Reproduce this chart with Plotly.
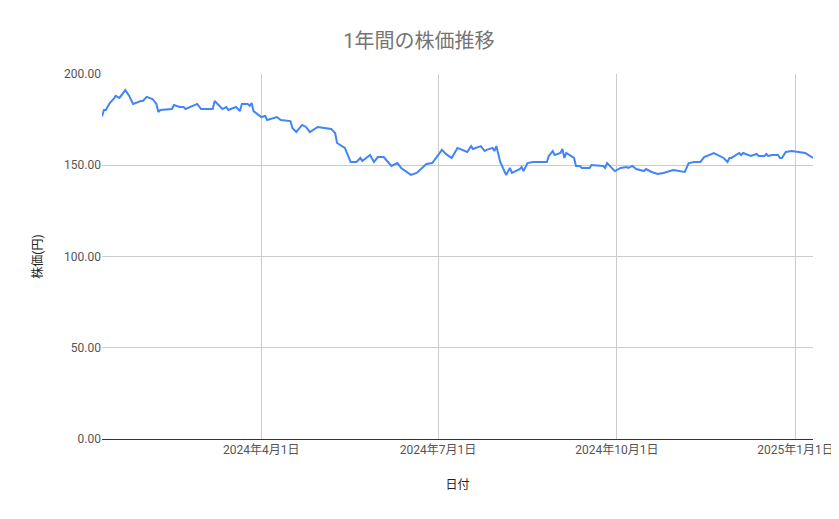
import plotly.graph_objects as go

# 日付と終値
dates = [
    "2024-01-10", "2024-01-11", "2024-01-12", "2024-01-14", "2024-01-16", "2024-01-17",
    "2024-01-19", "2024-01-22", "2024-01-24", "2024-01-26", "2024-01-30", "2024-01-31",
    "2024-02-02", "2024-02-05", "2024-02-07", "2024-02-08", "2024-02-09", "2024-02-15",
    "2024-02-16", "2024-02-19", "2024-02-21", "2024-02-22", "2024-02-28", "2024-03-01",
    "2024-03-07", "2024-03-08", "2024-03-12", "2024-03-14", "2024-03-15", "2024-03-19",
    "2024-03-21", "2024-03-22", "2024-03-25", "2024-03-26", "2024-03-27", "2024-03-28",
    "2024-04-01", "2024-04-03", "2024-04-04", "2024-04-08", "2024-04-09", "2024-04-11",
    "2024-04-16", "2024-04-17", "2024-04-19", "2024-04-22", "2024-04-24", "2024-04-26",
    "2024-04-30", "2024-05-07", "2024-05-09", "2024-05-10", "2024-05-14", "2024-05-17",
    "2024-05-20", "2024-05-22", "2024-05-23", "2024-05-27", "2024-05-29", "2024-05-31",
    "2024-06-03", "2024-06-07", "2024-06-10", "2024-06-12", "2024-06-17", "2024-06-20",
    "2024-06-25", "2024-06-28", "2024-07-01", "2024-07-03", "2024-07-05", "2024-07-08",
    "2024-07-11", "2024-07-16", "2024-07-18", "2024-07-19", "2024-07-23", "2024-07-25",
    "2024-07-26", "2024-07-29", "2024-07-30", "2024-07-31", "2024-08-02", "2024-08-05",
    "2024-08-07", "2024-08-08", "2024-08-12", "2024-08-13", "2024-08-14", "2024-08-16",
    "2024-08-19", "2024-08-21", "2024-08-26", "2024-08-27", "2024-08-29", "2024-08-30",
    "2024-09-02", "2024-09-03", "2024-09-04", "2024-09-05", "2024-09-09", "2024-09-10",
    "2024-09-12", "2024-09-13", "2024-09-17", "2024-09-18", "2024-09-24", "2024-09-25",
    "2024-09-26", "2024-09-29", "2024-09-30", "2024-10-03", "2024-10-06", "2024-10-07",
    "2024-10-09", "2024-10-11", "2024-10-15", "2024-10-16", "2024-10-19", "2024-10-22",
    "2024-10-25", "2024-10-30", "2024-11-05", "2024-11-07", "2024-11-10", "2024-11-13",
    "2024-11-15", "2024-11-20", "2024-11-25", "2024-11-27", "2024-11-28", "2024-11-29",
    "2024-12-03", "2024-12-04", "2024-12-05", "2024-12-09", "2024-12-12", "2024-12-13",
    "2024-12-16", "2024-12-17", "2024-12-18", "2024-12-20", "2024-12-23", "2024-12-24",
    "2024-12-25", "2024-12-27", "2024-12-30", "2025-01-06", "2025-01-10",
]
prices = [
    176.8, 180.3, 180.3, 184.1, 186.3, 188.0,
    186.9, 191.2, 188.0, 183.6, 185.2, 185.2,
    187.5, 186.3, 183.6, 179.2, 180.3, 180.8,
    183.0, 181.9, 181.9, 180.8, 183.6, 180.8,
    180.8, 185.2, 180.8, 181.9, 180.3, 181.9,
    179.7, 183.6, 183.6, 182.5, 184.1, 179.7,
    176.4, 177.0, 174.8, 175.9, 176.4, 174.8,
    174.2, 170.4, 168.2, 172.1, 171.0, 168.2,
    171.0, 169.9, 167.7, 162.2, 159.5, 151.8,
    151.8, 154.0, 152.3, 155.6, 151.8, 154.5,
    154.5, 149.6, 151.2, 148.5, 144.7, 145.8,
    150.7, 151.2, 155.6, 158.4, 156.2, 154.0,
    159.5, 157.3, 160.5, 158.9, 160.5, 157.8,
    158.4, 159.5, 157.8, 160.5, 151.8, 144.7,
    148.5, 145.8, 147.9, 149.0, 146.8, 151.2,
    151.8, 151.8, 151.8, 155.1, 157.8, 155.6,
    156.7, 158.9, 154.0, 156.7, 154.0, 149.6,
    149.6, 148.5, 148.5, 150.1, 149.6, 148.5,
    151.2, 147.9, 146.8, 148.5, 149.0, 148.5,
    149.6, 147.9, 146.8, 147.9, 146.3, 145.2,
    145.8, 147.4, 146.3, 151.2, 151.8, 151.8,
    154.5, 156.7, 154.0, 151.8, 154.0, 154.0,
    156.7, 155.6, 156.7, 155.1, 156.2, 155.1,
    155.1, 156.2, 155.1, 155.6, 155.6, 154.0,
    154.0, 157.3, 157.8, 156.7, 154.0,
]

tick_dates = ["2024-04-01", "2024-07-01", "2024-10-01", "2025-01-01"]
tick_labels = ["2024年4月1日", "2024年7月1日", "2024年10月1日", "2025年1月1日"]

font = "Roboto, 'Noto Sans CJK JP', sans-serif"

fig = go.Figure()
fig.add_trace(go.Scatter(
    x=dates, y=prices, mode="lines",
    line=dict(color="#4285F4", width=2),
    showlegend=False,
))

# ページ本体の余白(8px)を見込んだサイズ
fig.update_layout(
    width=831, height=503,
    margin=dict(l=94, r=26, t=66, b=72),
    paper_bgcolor="white", plot_bgcolor="white",
    font=dict(family=font, size=12, color="#444444"),
    title=dict(text="1年間の株価推移", x=0.4945, xanchor="center", y=0.935, yanchor="middle",
               font=dict(family=font, size=20, color="#757575")),
)
fig.update_xaxes(
    range=[dates[0], dates[-1]],
    tickvals=tick_dates, ticktext=tick_labels,
    ticklabeloverflow="allow", automargin=False,
    showgrid=True, gridcolor="#cccccc", gridwidth=1,
    showline=True, linecolor="#333333", linewidth=1,
    ticks="", tickfont=dict(size=12, color="#555555"),
    title=dict(text="日付", font=dict(size=12, color="#222222"), standoff=24),
)
fig.update_yaxes(
    range=[0, 200], dtick=50, tickformat=".2f",
    showgrid=True, gridcolor="#cccccc", gridwidth=1,
    zeroline=False, showline=False, automargin=False,
    ticks="", tickfont=dict(size=12, color="#555555"),
    title=dict(text="株価(円)", font=dict(size=12, color="#222222"), standoff=18),
)

fig.write_html("out.html")
